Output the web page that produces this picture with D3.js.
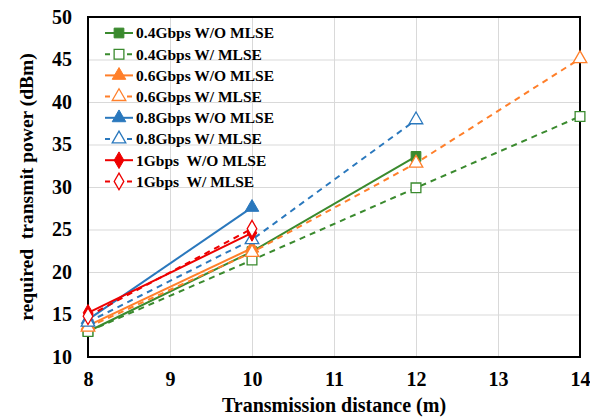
<!DOCTYPE html>
<html>
<head>
<meta charset="utf-8">
<script src="https://cdn.jsdelivr.net/npm/d3@7/dist/d3.min.js"></script>
<style>
  html, body { margin: 0; padding: 0; background: #fff; }
  svg text { font-family: "Liberation Serif", "Times New Roman", serif; font-weight: bold; fill: #000; }
</style>
</head>
<body>
<svg id="chart" width="590" height="418"></svg>
<script>
// Transmission distances (m) and required transmit power (dBm) per configuration
const distShort = [8, 10];
const distMid = [8, 10, 12];
const distLong = [8, 10, 12, 14];

const p04_noMlse = [13.0, 22.4, 33.6];
const p04_mlse   = [13.0, 21.4, 29.9, 38.3];
const p06_noMlse = [13.7, 22.8];
const p06_mlse   = [13.5, 22.3, 32.8, 45.1];
const p08_noMlse = [14.4, 27.6];
const p08_mlse   = [14.1, 23.8, 37.9];
const p1_noMlse  = [15.2, 24.6];
const p1_mlse    = [14.8, 25.1];

const xTicks = [8, 9, 10, 11, 12, 13, 14];
const yTicks = [10, 15, 20, 25, 30, 35, 40, 45, 50];

const series = [
  { name: "0.4Gbps W/O MLSE", x: distMid,   y: p04_noMlse, color: "#3a8a2e", dashed: false, marker: "square",   filled: true },
  { name: "0.4Gbps W/ MLSE",  x: distLong,  y: p04_mlse,   color: "#3a8a2e", dashed: true,  marker: "square",   filled: false },
  { name: "0.6Gbps W/O MLSE", x: distShort, y: p06_noMlse, color: "#ff7f2a", dashed: false, marker: "triangle", filled: true },
  { name: "0.6Gbps W/ MLSE",  x: distLong,  y: p06_mlse,   color: "#ff7f2a", dashed: true,  marker: "triangle", filled: false },
  { name: "0.8Gbps W/O MLSE", x: distShort, y: p08_noMlse, color: "#2a78bd", dashed: false, marker: "triangle", filled: true },
  { name: "0.8Gbps W/ MLSE",  x: distMid,   y: p08_mlse,   color: "#2a78bd", dashed: true,  marker: "triangle", filled: false },
  { name: "1Gbps  W/O MLSE",  x: distShort, y: p1_noMlse,  color: "#ee0000", dashed: false, marker: "diamond",  filled: true },
  { name: "1Gbps  W/ MLSE",   x: distShort, y: p1_mlse,    color: "#ee0000", dashed: true,  marker: "diamond",  filled: false }
];

const margin = { left: 88, right: 10, top: 17, bottom: 61 };
const width = 590, height = 418;
const svg = d3.select("#chart");

const x = d3.scaleLinear().domain([8, 14]).range([margin.left, width - margin.right]);
const y = d3.scaleLinear().domain([10, 50]).range([height - margin.bottom, margin.top]);

// gridlines
svg.append("g")
  .attr("transform", `translate(0,${height - margin.bottom})`)
  .call(d3.axisBottom(x).tickValues(xTicks).tickSize(-(height - margin.bottom - margin.top)).tickFormat(""))
  .call(g => g.select(".domain").remove())
  .call(g => g.selectAll("line").attr("stroke", "#d9d9d9").attr("stroke-width", 1));
svg.append("g")
  .attr("transform", `translate(${margin.left},0)`)
  .call(d3.axisLeft(y).tickValues(yTicks).tickSize(-(width - margin.right - margin.left)).tickFormat(""))
  .call(g => g.select(".domain").remove())
  .call(g => g.selectAll("line").attr("stroke", "#d9d9d9").attr("stroke-width", 1));

// tick labels
const xAxis = svg.append("g")
  .attr("transform", `translate(0,${height - margin.bottom})`)
  .call(d3.axisBottom(x).tickValues(xTicks).tickSize(0).tickPadding(15).tickFormat(d3.format("d")));
xAxis.select(".domain").remove();
xAxis.selectAll("text").style("font-size", "20px").style("font-family", null);

const yAxis = svg.append("g")
  .attr("transform", `translate(${margin.left},0)`)
  .call(d3.axisLeft(y).tickValues(yTicks).tickSize(0).tickPadding(16).tickFormat(d3.format("d")));
yAxis.select(".domain").remove();
yAxis.selectAll("text").style("font-size", "20px").style("font-family", null);

// plot frame
svg.append("rect")
  .attr("x", margin.left).attr("y", margin.top)
  .attr("width", width - margin.right - margin.left)
  .attr("height", height - margin.bottom - margin.top)
  .attr("fill", "none").attr("stroke", "#000").attr("stroke-width", 2);

// marker symbols
const symbolFor = { square: d3.symbolSquare, triangle: d3.symbolTriangle, diamond: d3.symbolDiamond };
const sizeFor = { square: 95, triangle: 80, diamond: 80 };

const line = d3.line().x(d => x(d[0])).y(d => y(d[1]));

series.forEach(s => {
  const pts = s.x.map((v, i) => [v, s.y[i]]);
  svg.append("path")
    .datum(pts)
    .attr("d", line)
    .attr("fill", "none")
    .attr("stroke", s.color)
    .attr("stroke-width", 2)
    .attr("stroke-dasharray", s.dashed ? "6,5" : null);
});

series.forEach(s => {
  const pts = s.x.map((v, i) => [v, s.y[i]]);
  svg.append("g").selectAll("path")
    .data(pts)
    .join("path")
    .attr("transform", d => `translate(${x(d[0])},${y(d[1])})`)
    .attr("d", d3.symbol().type(symbolFor[s.marker]).size(sizeFor[s.marker]))
    .attr("fill", s.filled ? s.color : "#fff")
    .attr("stroke", s.color)
    .attr("stroke-width", s.filled ? 1 : 1.3);
});

// legend
const legend = svg.append("g").attr("transform", "translate(105,33)");
series.forEach((s, i) => {
  const g = legend.append("g").attr("transform", `translate(0,${i * 21.2})`);
  g.append("line")
    .attr("x1", 0).attr("x2", 28).attr("y1", 0).attr("y2", 0)
    .attr("stroke", s.color).attr("stroke-width", 2)
    .attr("stroke-dasharray", s.dashed ? "5,6" : null);
  g.append("path")
    .attr("transform", "translate(14,0)")
    .attr("d", d3.symbol().type(symbolFor[s.marker]).size(sizeFor[s.marker]))
    .attr("fill", s.filled ? s.color : "#fff")
    .attr("stroke", s.color)
    .attr("stroke-width", s.filled ? 1 : 1.3);
  g.append("text")
    .attr("x", 31).attr("y", 0).attr("dy", "0.35em")
    .style("font-size", "15.5px")
    .style("white-space", "pre")
    .attr("xml:space", "preserve")
    .text(s.name);
});

// axis titles
svg.append("text")
  .attr("x", (margin.left + width - margin.right) / 2)
  .attr("y", 412)
  .attr("text-anchor", "middle")
  .style("font-size", "20px")
  .text("Transmission distance (m)");

svg.append("text")
  .attr("transform", `translate(26,${(margin.top + height - margin.bottom) / 2}) rotate(-90)`)
  .attr("text-anchor", "middle")
  .attr("dy", "0.35em")
  .style("font-size", "19.5px")
  .style("white-space", "pre")
  .attr("xml:space", "preserve")
  .text("required  transmit power (dBm)");
</script>
</body>
</html>
